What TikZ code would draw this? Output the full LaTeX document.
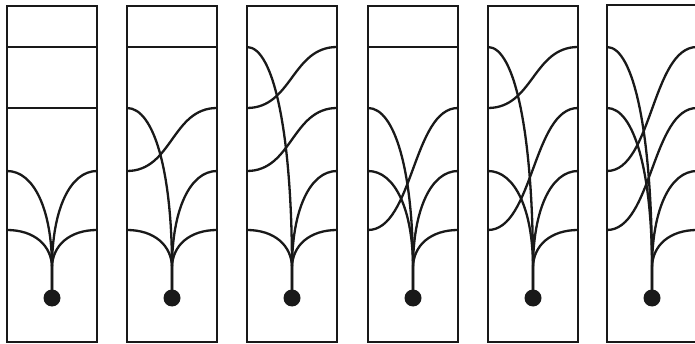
\documentclass[tikz,border=0pt]{standalone}
\newcommand{\todot}[4]{% start x, dot x, level y, dot node
  \draw[wire] (#1,#3) .. controls ({#1+0.6*(#2-#1)},#3) and (#2,{#3+0.4*(268-#3)}) .. (#2,268) -- (#4.center);}
\newcommand{\scurve}[4]{% left x, right x, left y, right y
  \draw[wire] (#1,#3) .. controls ({(#1+#2)/2},#3) and ({(#1+#2)/2},#4) .. (#2,#4);}
\newcommand{\hwire}[3]{\draw[wire] (#1,#3) -- (#2,#3);}
\begin{document}
\begin{tikzpicture}[x=1pt,y=-1pt,
  frame/.style={draw=black!90, line width=2.3pt},
  wire/.style={draw=black!90, line width=2.3pt},
  dotn/.style={circle, fill=black!90, inner sep=0pt, minimum size=17pt}]
\useasboundingbox (0,0) rectangle (695,344);
\clip (0,0) rectangle (695,344);
% frames
\draw[frame] (7,6) rectangle (97,342);
\draw[frame] (127,6) rectangle (217,342);
\draw[frame] (247,6) rectangle (337,342);
\draw[frame] (368,6) rectangle (458,342);
\draw[frame] (488,6) rectangle (578,342);
\draw[frame] (607,5) rectangle (697,342);
% dots
\node[dotn] (d1) at (52,298) {};
\node[dotn] (d2) at (172,298) {};
\node[dotn] (d3) at (292,298) {};
\node[dotn] (d4) at (413,298) {};
\node[dotn] (d5) at (533,298) {};
\node[dotn] (d6) at (652,298) {};
% panel 1
\hwire{7}{97}{47}
\hwire{7}{97}{108}
\todot{7}{52}{171}{d1}
\todot{97}{52}{171}{d1}
\todot{7}{52}{230}{d1}
\todot{97}{52}{230}{d1}
% panel 2
\hwire{127}{217}{47}
\todot{127}{172}{108}{d2}
\scurve{127}{217}{171}{108}
\todot{217}{172}{171}{d2}
\todot{127}{172}{230}{d2}
\todot{217}{172}{230}{d2}
% panel 3
\todot{247}{292}{47}{d3}
\scurve{247}{337}{108}{47}
\scurve{247}{337}{171}{108}
\todot{337}{292}{171}{d3}
\todot{247}{292}{230}{d3}
\todot{337}{292}{230}{d3}
% panel 4
\hwire{368}{458}{47}
\todot{368}{413}{108}{d4}
\todot{368}{413}{171}{d4}
\scurve{368}{458}{230}{108}
\todot{458}{413}{171}{d4}
\todot{458}{413}{230}{d4}
% panel 5
\todot{488}{533}{47}{d5}
\scurve{488}{578}{108}{47}
\todot{488}{533}{171}{d5}
\scurve{488}{578}{230}{108}
\todot{578}{533}{171}{d5}
\todot{578}{533}{230}{d5}
% panel 6
\todot{607}{652}{47}{d6}
\todot{607}{652}{108}{d6}
\scurve{607}{697}{171}{47}
\scurve{607}{697}{230}{108}
\todot{697}{652}{171}{d6}
\todot{697}{652}{230}{d6}
\end{tikzpicture}
\end{document}
